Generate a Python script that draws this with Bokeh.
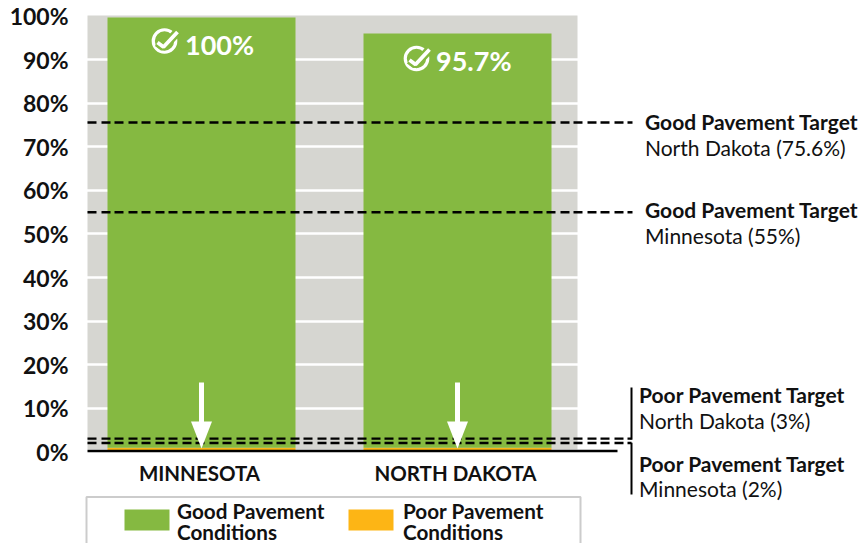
from bokeh.plotting import figure
from bokeh.models import Range1d, FixedTicker
from bokeh.embed import file_html
from bokeh.resources import INLINE
from bokeh.core.properties import value

categories = ["MINNESOTA", "NORTH DAKOTA"]
good_top = [99.7, 96.0]
poor_top = [0.9, 0.9]
good_labels = ["100%", "95.7%"]
y_ticks = [0, 10, 20, 30, 40, 50, 60, 70, 80, 90, 100]
good_targets = [75.6, 55]
poor_targets = [3, 2]
good_target_text = [("Good Pavement Target", "North Dakota (75.6%)"), ("Good Pavement Target", "Minnesota (55%)")]
poor_target_text = [("Poor Pavement Target", "North Dakota (3%)"), ("Poor Pavement Target", "Minnesota (2%)")]
legend_labels = [("Good Pavement", "Conditions"), ("Poor Pavement", "Conditions")]

GREEN, ORANGE, GRAY = "#85B941", "#FDB515", "#D6D6D1"
INK = "#111111"
FONT = "Lato"
DASH = "9 5 9 4"

# decoration placement: convert page pixels to data units
SX, X0, SY, Y0 = 256.0, 201.0, 4.355, 451.2
def dx(px): return (px - X0) / SX
def dy(py): return (Y0 - py) / SY

p = figure(width=861, height=543, output_backend="svg", toolbar_location=None,
           x_range=Range1d(dx(0), dx(861)), y_range=Range1d(dy(543), dy(0)),
           min_border=0, min_border_left=0, min_border_right=0, min_border_top=0, min_border_bottom=0,
           outline_line_color=None, background_fill_color="white")

# axes, fixed inside the full-canvas frame
xs = list(range(len(categories)))
tick_pos = [i - 0.0078125 for i in xs]
p.xaxis.fixed_location = 0
p.xaxis.ticker = FixedTicker(ticks=tick_pos)
p.xaxis.major_label_overrides = {t: c for t, c in zip(tick_pos, categories)}
p.xaxis.axis_line_color = None
p.xaxis.major_tick_line_color = None
p.xaxis.minor_tick_line_color = None
p.xaxis.major_label_standoff = 3
p.xaxis.major_label_text_font = FONT
p.xaxis.major_label_text_font_style = "bold"
p.xaxis.major_label_text_font_size = "20.5px"
p.xaxis.major_label_text_color = INK

p.yaxis.fixed_location = dx(87)
p.yaxis.ticker = FixedTicker(ticks=y_ticks)
p.yaxis.major_label_overrides = {v: f"{v}%" for v in y_ticks}
p.yaxis.axis_line_color = None
p.yaxis.major_tick_line_color = None
p.yaxis.minor_tick_line_color = None
p.yaxis.major_label_standoff = 13
p.yaxis.major_label_text_font = FONT
p.yaxis.major_label_text_font_style = "bold"
p.yaxis.major_label_text_font_size = "23px"
p.yaxis.major_label_text_color = INK

p.xgrid.visible = False
p.ygrid.ticker = FixedTicker(ticks=y_ticks[1:-1])
p.ygrid.grid_line_color = "white"
p.ygrid.grid_line_width = 2.4

# panel
p.quad(left=[dx(87)], right=[dx(577)], bottom=[dy(449)], top=[dy(15)], color=GRAY, line_color=None, level="image")

# bars
bw = 188 / SX
p.vbar(x=xs, width=bw, bottom=0, top=poor_top, color=ORANGE, line_color=None)
p.vbar(x=xs, width=bw, bottom=poor_top, top=good_top, color=GREEN, line_color=None)

# target lines
for t in good_targets:
    p.line([dx(87), dx(632)], [t, t], line_color="black", line_width=2.4, line_dash=DASH)
for t in poor_targets:
    p.line([dx(87), dx(631)], [t, t], line_color="black", line_width=2.4, line_dash=DASH)
p.line([dx(87), dx(617)], [dy(450.5), dy(450.5)], line_color="black", line_width=2.4)

# brackets
p.line([dx(631), dx(631)], [dy(387), dy(439.2)], line_color="black", line_width=2)
p.line([dx(631), dx(631)], [dy(442.2), dy(494)], line_color="black", line_width=2)

# arrows
for i in xs:
    p.segment([i], [dy(382)], [i], [dy(425)], line_color="white", line_width=5)
    p.patch([i - 10.5 / SX, i, i + 10.5 / SX], [dy(421), dy(448), dy(421)], color="white", line_color=None)

# check icons + value labels
icons = [(164, 40.5), (416, 58)]
lab_x = [184.5, 435.5]
lab_y = [44, 60]
for (cx, cy), lx, ly, lb in zip(icons, lab_x, lab_y, good_labels):
    p.scatter([dx(cx)], [dy(cy)], marker="circle", size=22.5, fill_color=None, line_color="white", line_width=3.2)
    chk_x = [dx(cx - 7), dx(cx - 1), dx(cx + 13)]
    chk_y = [dy(cy + 1.5), dy(cy + 6), dy(cy - 9)]
    p.line(chk_x, chk_y, line_color=GREEN, line_width=8.5)
    p.line(chk_x, chk_y, line_color="white", line_width=3.8)
    p.text([dx(lx)], [dy(ly)], text=[lb], text_color="white", text_font=value(FONT), text_font_size="27px",
           text_font_style="bold", text_align="left", text_baseline="middle")

def label(px, py, txt, style, size="21px", color=INK):
    p.text([dx(px)], [dy(py)], text=[txt], text_color=color, text_font=value(FONT), text_font_size=size,
           text_font_style=style, text_align="left", text_baseline="middle")

for (a, b), y1, y2 in zip(good_target_text, [121, 209], [147, 235]):
    label(644.5, y1, a, "bold")
    label(644.5, y2, b, "normal")
for (a, b), y1, y2 in zip(poor_target_text, [393.5, 462.5], [419.5, 487.5]):
    label(638.5, y1, a, "bold")
    label(638.5, y2, b, "normal")

# legend box
p.line([dx(86), dx(86), dx(580), dx(580)], [dy(560), dy(496.5), dy(496.5), dy(560)], line_color="#CCCCCC", line_width=2)
for (a, b), sw, tx, col in zip(legend_labels, [124, 348], [176.5, 402.5], [GREEN, ORANGE]):
    p.quad(left=[dx(sw)], right=[dx(sw + 45)], bottom=[dy(530)], top=[dy(509)], color=col, line_color=None)
    label(tx, 510.5, a, "bold", "20.7px")
    label(tx, 531, b, "bold", "20.7px")

open("out.html", "w").write(file_html(p, INLINE))
